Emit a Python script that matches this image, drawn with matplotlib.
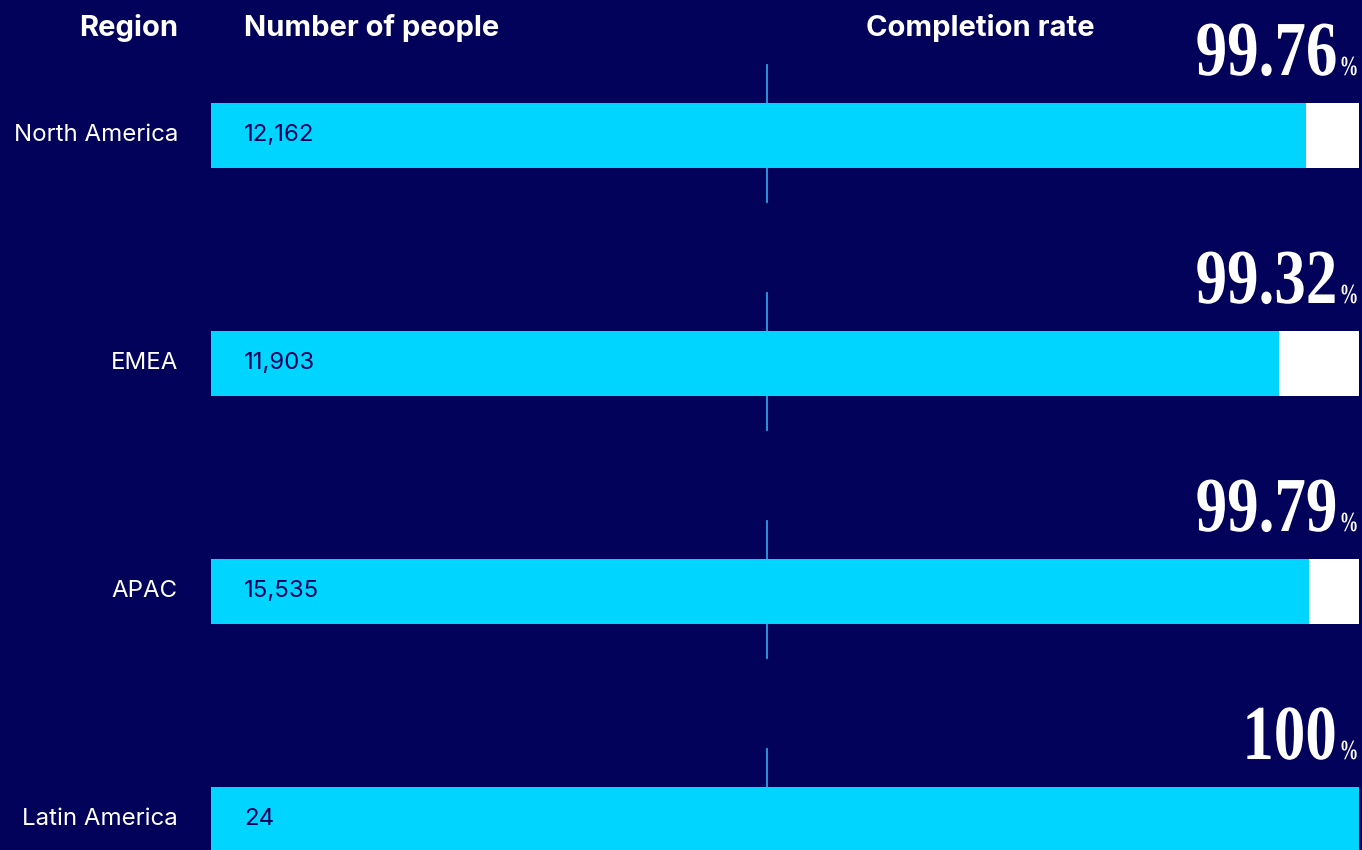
import numpy as np
import matplotlib
matplotlib.use('Agg')
import matplotlib.pyplot as plt
import matplotlib.patheffects as pe
from matplotlib.transforms import Affine2D, blended_transform_factory

# Data
regions = ['North America', 'EMEA', 'APAC', 'Latin America']
people = [12162, 11903, 15535, 24]
completion = [99.76, 99.32, 99.79, 100.0]

bg = '#02025b'
cyan = '#00d5ff'
W, H = 1362, 850


class Squeeze(pe.AbstractPathEffect):
    # narrows glyphs horizontally around a fixed display x (condensed serif look)
    def __init__(self, sx, x0):
        super().__init__()
        self.sx = sx
        self.x0 = x0

    def draw_path(self, renderer, gc, tpath, affine, rgbFace=None):
        sq = Affine2D().translate(-self.x0, 0).scale(self.sx, 1).translate(self.x0, 0)
        renderer.draw_path(gc, tpath, affine + sq, rgbFace)


fig = plt.figure(figsize=(W / 100, H / 100), dpi=100, facecolor=bg)
ax = fig.add_axes([211 / W, 0, (1359 - 211) / W, 1])
ax.set_facecolor(bg)

# compressed scale near 100% so small gaps stay visible
ax.set_xscale('function', functions=(lambda x: -np.power(np.clip(100 - x, 0, None), 0.4),
                                     lambda y: 100 - np.power(np.clip(-y, 0, None), 2.5)))
lo = -424
ax.set_xlim(lo, 100)
ax.set_ylim(3.134, -0.594)
ax.axis('off')

y = np.arange(len(regions))
ax.barh(y, [c - lo for c in completion], left=lo, height=0.285, color=cyan, zorder=2)
ax.barh(y, [100 - c for c in completion], left=completion, height=0.285, color='white', zorder=2)

# thin vertical guide behind each bar
xline = (767 - 211) / (1359 - 211)
for yi in y:
    ax.plot([xline, xline], [yi - 0.31, yi + 0.29], color='#2a9fe3', lw=1.3,
            transform=blended_transform_factory(ax.transAxes, ax.transData), zorder=1)

lab_tr = blended_transform_factory(fig.transFigure, ax.transData)
for yi, r, n, c in zip(y, regions, people, completion):
    ax.text(178 / W, yi, r, transform=lab_tr, ha='right', va='center',
            color='white', fontsize=17.3, family='Inter')
    ax.text(244 / W, yi, f'{n:,}', transform=lab_tr, ha='left', va='center',
            color=bg, fontsize=17.3, family='Inter', zorder=3)
    txt = f'{c:.2f}' if c < 100 else f'{c:.0f}'
    ax.text(1337 / W, yi - 0.265, txt, transform=lab_tr, ha='right', va='baseline',
            color='white', fontsize=56, family='Liberation Serif', weight='bold',
            path_effects=[Squeeze(0.81, 1337)])
    ax.text(1349 / W, yi - 0.265, '%', transform=lab_tr, ha='center', va='baseline',
            color='white', fontsize=20, family='Liberation Serif', weight='bold',
            path_effects=[Squeeze(0.68, 1349)])

# column headers
hy = 1 - 28 / H
fig.text(178 / W, hy, 'Region', ha='right', va='center', color='white',
         fontsize=21, family='Inter', weight='bold')
fig.text(244 / W, hy, 'Number of people', ha='left', va='center', color='white',
         fontsize=21, family='Inter', weight='bold')
fig.text(866 / W, hy, 'Completion rate', ha='left', va='center', color='white',
         fontsize=21, family='Inter', weight='bold')

fig.savefig('out.png', dpi=100, facecolor=bg)
